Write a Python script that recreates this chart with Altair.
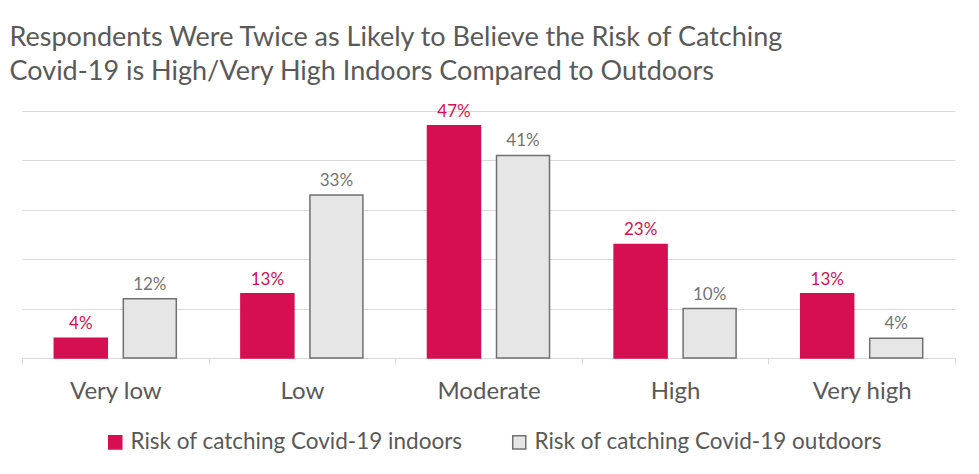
import altair as alt
import pandas as pd

FONT = "Lato"
categories = ["Very low", "Low", "Moderate", "High", "Very high"]
indoors = [4, 13, 47, 23, 13]
outdoors = [12, 33, 41, 10, 4]
series = ["Risk of catching Covid-19 indoors", "Risk of catching Covid-19 outdoors"]
title_lines = [
    "Respondents Were Twice as Likely to Believe the Risk of Catching",
    "Covid-19 is High/Very High Indoors Compared to Outdoors",
]

rows = []
for c, a, b in zip(categories, indoors, outdoors):
    rows.append({"cat": c, "series": series[0], "value": a, "label": f"{a}%"})
    rows.append({"cat": c, "series": series[1], "value": b, "label": f"{b}%"})
df = pd.DataFrame(rows)

x = alt.X(
    "cat:N", sort=categories,
    scale=alt.Scale(paddingInner=0, paddingOuter=0),
    axis=alt.Axis(title=None, labelAngle=0, labelFontSize=24, labelColor="#595959",
                  labelFont=FONT, labelPadding=15, tickBand="extent", ticks=True,
                  tickSize=6, tickColor="#d9d9d9", domainColor="#d9d9d9"),
)
xo = alt.XOffset("series:N", sort=series,
                 scale=alt.Scale(paddingInner=0.232, paddingOuter=0.468))
y = alt.Y(
    "value:Q", scale=alt.Scale(domain=[0, 50]),
    axis=alt.Axis(title=None, labels=False, ticks=False, domain=False,
                  values=[10, 20, 30, 40, 50], gridColor="#d9d9d9"),
)

legend = alt.Legend(title=None, orient="none", legendX=82, legendY=320,
                    direction="horizontal", symbolType="square", symbolSize=170,
                    labelFontSize=22.5, labelColor="#595959", labelFont=FONT,
                    labelLimit=0, columnPadding=45, symbolStrokeWidth=1.5)

bars = alt.Chart(df).mark_bar(strokeWidth=1.5).encode(
    x=x, xOffset=xo, y=y,
    fill=alt.Fill("series:N", sort=series,
                  scale=alt.Scale(domain=series, range=["#D50F52", "#E6E6E6"]),
                  legend=legend),
    stroke=alt.Stroke("series:N", sort=series,
                      scale=alt.Scale(domain=series, range=["#D50F52", "#707070"]),
                      legend=legend),
)

labels = alt.Chart(df).mark_text(dy=-14, fontSize=17, font=FONT).encode(
    x=x, xOffset=xo, y=y, text="label:N",
    color=alt.Color("series:N", sort=series,
                    scale=alt.Scale(domain=series, range=["#D50F52", "#737373"]),
                    legend=None),
)

chart = alt.layer(bars, labels).properties(
    width=933, height=247,
    autosize=alt.AutoSizeParams(type="none"),
    padding={"left": 14, "top": 103, "right": 10, "bottom": 100},
    title=alt.TitleParams(text=title_lines, anchor="start", frame="bounds",
                          fontSize=27, font=FONT, fontWeight="normal",
                          color="#595959", lineHeight=34, offset=17, dx=-12),
).configure_view(stroke=None)

chart.save("out.html", embed_options={"renderer": "svg", "actions": False})
